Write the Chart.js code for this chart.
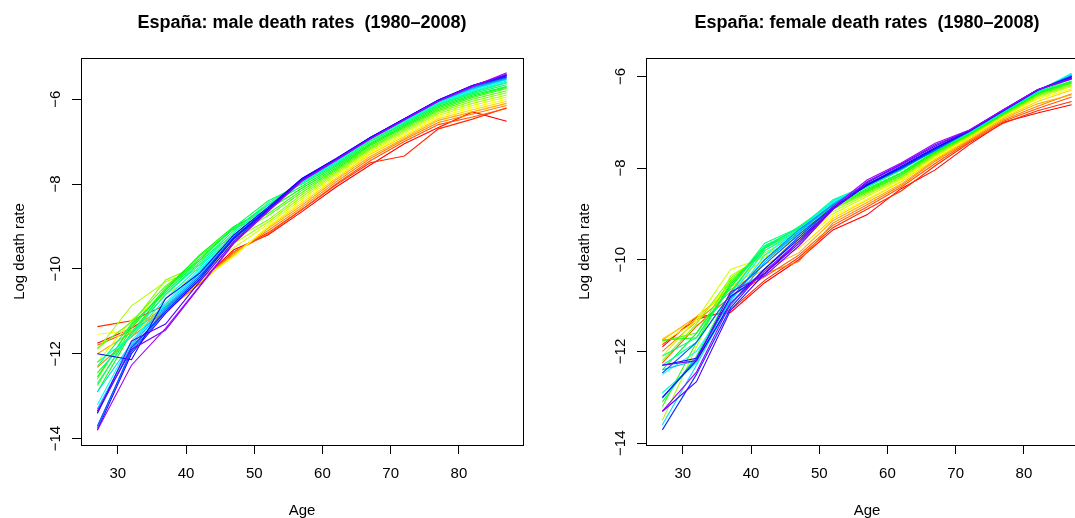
<!DOCTYPE html>
<html>
<head>
<meta charset="utf-8">
<script src="https://cdn.jsdelivr.net/npm/chart.js@4/dist/chart.umd.min.js"></script>
<style>
html, body { margin: 0; padding: 0; background: #fff; overflow: hidden; width: 1075px; height: 518px; }
canvas { position: absolute; top: 0; }
</style>
</head>
<body>
<canvas id="maleChart" width="565" height="518" style="left:0"></canvas>
<canvas id="femaleChart" width="565" height="518" style="left:565px"></canvas>
<script>
// ages (5-year groups, midpoints) and years
const ages = [27, 32, 37, 42, 47, 52, 57, 62, 67, 72, 77, 82, 87];
const years = [1980, 1981, 1982, 1983, 1984, 1985, 1986, 1987, 1988, 1989, 1990, 1991, 1992, 1993,
  1994, 1995, 1996, 1997, 1998, 1999, 2000, 2001, 2002, 2003, 2004, 2005, 2006, 2007, 2008];
const ageTicks = [30, 40, 50, 60, 70, 80];
const rateTicks = [-14, -12, -10, -8, -6];

// log death rates, one row per year (1980 .. 2008), one column per age
const maleRates = [
  [-11.75, -11.40, -10.90, -10.30, -9.55, -9.20, -8.65, -8.07, -7.55, -7.05, -6.67, -6.30, -6.52],
  [-11.36, -11.22, -10.85, -10.30, -9.60, -9.15, -8.60, -8.02, -7.50, -7.34, -6.70, -6.47, -6.20],
  [-11.80, -11.45, -10.95, -10.35, -9.60, -9.18, -8.60, -8.00, -7.45, -7.00, -6.60, -6.42, -6.22],
  [-12.32, -11.60, -11.00, -10.35, -9.62, -9.10, -8.55, -7.95, -7.40, -6.95, -6.55, -6.35, -6.15],
  [-12.00, -11.50, -10.90, -10.30, -9.65, -9.05, -8.50, -7.90, -7.35, -6.92, -6.50, -6.30, -6.10],
  [-12.45, -11.55, -10.95, -10.32, -9.68, -9.02, -8.45, -7.86, -7.30, -6.88, -6.46, -6.25, -6.05],
  [-11.54, -11.45, -10.85, -10.28, -9.71, -9.00, -8.40, -7.82, -7.27, -6.84, -6.42, -6.20, -6.00],
  [-12.20, -11.20, -10.60, -10.10, -9.50, -8.95, -8.35, -7.78, -7.24, -6.80, -6.38, -6.15, -5.95],
  [-11.90, -10.87, -10.30, -10.00, -9.40, -8.90, -8.30, -7.75, -7.20, -6.76, -6.34, -6.10, -5.90],
  [-12.60, -11.30, -10.26, -9.90, -9.30, -8.85, -8.25, -7.72, -7.17, -6.73, -6.30, -6.05, -5.85],
  [-11.87, -11.25, -10.40, -9.80, -9.20, -8.75, -8.20, -7.68, -7.14, -6.70, -6.27, -6.00, -5.80],
  [-12.75, -11.40, -10.45, -9.70, -9.05, -8.70, -8.15, -7.65, -7.10, -6.67, -6.24, -5.96, -5.75],
  [-12.90, -11.50, -10.50, -9.67, -9.00, -8.60, -8.10, -7.62, -7.07, -6.64, -6.20, -5.93, -5.72],
  [-12.55, -11.35, -10.50, -9.75, -9.05, -8.50, -8.05, -7.58, -7.04, -6.61, -6.17, -5.90, -5.70],
  [-12.30, -11.30, -10.55, -9.80, -9.02, -8.40, -8.00, -7.55, -7.00, -6.58, -6.14, -5.87, -5.66],
  [-12.70, -11.50, -10.60, -9.85, -9.10, -8.45, -7.97, -7.52, -6.97, -6.56, -6.12, -5.84, -5.62],
  [-12.45, -11.55, -10.60, -9.90, -9.15, -8.50, -7.95, -7.50, -6.94, -6.54, -6.10, -5.82, -5.60],
  [-12.20, -11.60, -10.70, -9.95, -9.20, -8.55, -7.95, -7.48, -6.92, -6.52, -6.08, -5.80, -5.57],
  [-13.20, -11.70, -10.80, -10.00, -9.25, -8.60, -7.95, -7.46, -6.90, -6.50, -6.07, -5.78, -5.55],
  [-12.90, -11.75, -10.85, -10.05, -9.25, -8.62, -7.93, -7.45, -6.90, -6.50, -6.06, -5.76, -5.53],
  [-13.30, -11.80, -10.90, -10.10, -9.28, -8.60, -7.92, -7.44, -6.92, -6.49, -6.05, -5.74, -5.52],
  [-13.75, -11.90, -10.95, -10.15, -9.30, -8.62, -7.90, -7.43, -6.93, -6.48, -6.04, -5.72, -5.50],
  [-13.70, -11.95, -11.00, -10.20, -9.30, -8.60, -7.88, -7.42, -6.92, -6.47, -6.03, -5.70, -5.48],
  [-13.40, -11.85, -11.00, -10.20, -9.25, -8.58, -7.87, -7.41, -6.91, -6.46, -6.03, -5.69, -5.47],
  [-12.00, -12.14, -10.70, -10.10, -9.20, -8.55, -7.87, -7.40, -6.90, -6.46, -6.02, -5.68, -5.45],
  [-13.80, -12.00, -11.05, -10.25, -9.28, -8.60, -7.88, -7.41, -6.91, -6.47, -6.02, -5.68, -5.44],
  [-13.40, -11.70, -11.30, -10.30, -9.35, -8.62, -7.90, -7.42, -6.92, -6.47, -6.03, -5.68, -5.43],
  [-13.35, -11.90, -11.44, -10.42, -9.40, -8.65, -7.92, -7.43, -6.93, -6.48, -6.04, -5.70, -5.41],
  [-13.80, -12.27, -11.40, -10.40, -9.38, -8.65, -7.93, -7.44, -6.94, -6.49, -6.05, -5.70, -5.38]
];

const femaleRates = [
  [-11.90, -11.25, -11.15, -10.50, -10.00, -9.35, -9.02, -8.45, -8.04, -7.49, -7.00, -6.80, -6.62],
  [-11.85, -11.30, -11.10, -10.45, -9.95, -9.30, -8.90, -8.50, -7.95, -7.45, -7.02, -6.75, -6.55],
  [-12.25, -11.45, -10.80, -10.37, -9.90, -9.25, -8.85, -8.42, -7.90, -7.42, -6.98, -6.70, -6.45],
  [-12.00, -11.35, -10.70, -10.30, -10.04, -9.20, -8.80, -8.38, -7.85, -7.40, -6.95, -6.65, -6.38],
  [-11.75, -11.24, -10.65, -10.20, -9.85, -9.15, -8.75, -8.35, -7.82, -7.38, -6.92, -6.60, -6.40],
  [-11.72, -11.30, -10.60, -10.10, -9.75, -9.10, -8.70, -8.30, -7.80, -7.35, -6.90, -6.55, -6.30],
  [-11.80, -11.35, -10.50, -10.00, -9.60, -9.05, -8.68, -8.28, -7.78, -7.33, -6.88, -6.50, -6.27],
  [-12.10, -11.30, -10.21, -9.95, -9.55, -9.00, -8.62, -8.25, -7.75, -7.31, -6.86, -6.47, -6.22],
  [-13.50, -11.90, -10.35, -9.90, -9.50, -8.95, -8.58, -8.22, -7.72, -7.30, -6.85, -6.44, -6.20],
  [-12.20, -11.40, -10.40, -9.85, -9.45, -8.90, -8.55, -8.20, -7.70, -7.29, -6.84, -6.42, -6.18],
  [-11.77, -11.60, -10.45, -9.80, -9.40, -8.88, -8.52, -8.17, -7.68, -7.28, -6.83, -6.40, -6.15],
  [-13.20, -11.80, -10.50, -9.75, -9.35, -8.85, -8.50, -8.15, -7.66, -7.27, -6.82, -6.38, -6.14],
  [-11.75, -11.70, -10.55, -9.70, -9.32, -8.82, -8.48, -8.12, -7.65, -7.26, -6.80, -6.37, -6.12],
  [-12.40, -11.60, -10.60, -9.72, -9.30, -8.80, -8.45, -8.10, -7.63, -7.25, -6.80, -6.36, -6.10],
  [-13.10, -12.10, -10.70, -9.75, -9.28, -8.75, -8.42, -8.05, -7.60, -7.24, -6.79, -6.35, -6.05],
  [-12.10, -11.70, -10.60, -9.64, -9.30, -8.72, -8.40, -8.03, -7.60, -7.23, -6.78, -6.34, -6.00],
  [-12.30, -11.80, -10.75, -9.70, -9.32, -8.69, -8.38, -8.02, -7.60, -7.22, -6.77, -6.33, -5.95],
  [-12.90, -12.25, -10.80, -9.80, -9.35, -8.72, -8.37, -8.00, -7.60, -7.22, -6.77, -6.33, -5.93],
  [-12.50, -12.00, -10.90, -9.90, -9.35, -8.75, -8.36, -8.00, -7.60, -7.21, -6.76, -6.32, -5.95],
  [-13.60, -12.30, -10.90, -10.00, -9.40, -8.78, -8.35, -8.00, -7.60, -7.21, -6.76, -6.32, -5.97],
  [-12.40, -12.20, -11.00, -10.05, -9.40, -8.80, -8.35, -8.00, -7.61, -7.21, -6.76, -6.31, -5.98],
  [-13.02, -12.15, -10.85, -10.00, -9.35, -8.80, -8.36, -8.00, -7.62, -7.20, -6.75, -6.31, -6.00],
  [-12.47, -11.80, -10.75, -10.10, -9.45, -8.85, -8.38, -8.02, -7.60, -7.20, -6.75, -6.30, -6.00],
  [-13.71, -12.50, -11.05, -10.20, -9.50, -8.85, -8.38, -8.00, -7.58, -7.19, -6.74, -6.30, -6.00],
  [-13.00, -12.20, -10.95, -10.20, -9.55, -8.88, -8.37, -7.98, -7.57, -7.19, -6.74, -6.30, -6.02],
  [-12.30, -12.15, -10.80, -10.30, -9.60, -8.90, -8.36, -7.96, -7.55, -7.19, -6.74, -6.30, -6.03],
  [-13.31, -12.66, -11.10, -10.30, -9.65, -8.90, -8.32, -7.93, -7.52, -7.18, -6.73, -6.29, -6.05],
  [-12.30, -12.20, -10.70, -10.35, -9.70, -8.90, -8.30, -7.91, -7.49, -7.18, -6.73, -6.29, -6.06],
  [-13.30, -12.45, -10.95, -10.25, -9.60, -8.85, -8.26, -7.89, -7.46, -7.17, -6.73, -6.29, -6.04]
];

// R's rainbow(n * 1.25)[1:n] palette
function rainbowColour(i, n) {
  const h = i / (n * 1.25) * 6;
  const k = Math.floor(h), f = h - k;
  const q = 1 - f;
  const rgb = [[1, f, 0], [q, 1, 0], [0, 1, f], [0, q, 1], [f, 0, 1], [1, 0, q]][k % 6];
  return '#' + rgb.map(c => Math.round(c * 255).toString(16).padStart(2, '0')).join('');
}

const fontName = '"Liberation Sans", Arial, Helvetica, sans-serif';

function minus(v) {
  return v < 0 ? '\u2212' + Math.abs(v) : String(v);
}

// box, titles and R-style tick labels
const rLook = {
  id: 'rLook',
  afterDraw(chart, args, opts) {
    const { ctx, chartArea: a, scales: { x, y } } = chart;
    ctx.save();
    ctx.strokeStyle = '#000';
    ctx.lineWidth = 1;
    ctx.strokeRect(Math.round(a.left) + 0.5, Math.round(a.top) + 0.5,
      Math.round(a.right - a.left), Math.round(a.bottom - a.top));

    ctx.fillStyle = '#000';
    ctx.textBaseline = 'alphabetic';
    ctx.textAlign = 'center';
    ctx.font = '15px ' + fontName;
    x.ticks.forEach(t => ctx.fillText(String(t.value), x.getPixelForValue(t.value), 478));
    ctx.fillText(opts.xTitle, (a.left + a.right) / 2, 515);

    y.ticks.forEach(t => {
      ctx.save();
      ctx.translate(a.left - 21.5, y.getPixelForValue(t.value));
      ctx.rotate(-Math.PI / 2);
      ctx.fillText(minus(t.value), 0, 0);
      ctx.restore();
    });
    ctx.save();
    ctx.translate(a.left - 57, (a.top + a.bottom) / 2);
    ctx.rotate(-Math.PI / 2);
    ctx.fillText(opts.yTitle, 0, 0);
    ctx.restore();

    ctx.font = 'bold 18px ' + fontName;
    ctx.fillText(opts.title, (a.left + a.right) / 2, 28);
    ctx.restore();
  }
};

function makeChart(id, rates, title, yMin, yMax) {
  const datasets = rates.map((row, i) => ({
    label: String(years[i]),
    data: ages.map((a, j) => ({ x: a, y: row[j] })),
    borderColor: rainbowColour(i, years.length),
    borderWidth: 1.1,
    pointRadius: 0,
    fill: false,
    tension: 0,
    order: years.length - 1 - i
  }));

  const axisGrid = { display: true, drawOnChartArea: false, drawTicks: true, tickLength: 9, color: '#000', lineWidth: 1 };

  return new Chart(document.getElementById(id), {
    type: 'line',
    data: { datasets },
    plugins: [rLook],
    options: {
      responsive: false,
      animation: false,
      devicePixelRatio: 1,
      events: [],
      layout: { padding: { top: 58, right: 42, left: 0, bottom: 0 } },
      scales: {
        x: {
          type: 'linear',
          min: 24.6,
          max: 89.4,
          afterBuildTicks: s => { s.ticks = ageTicks.map(v => ({ value: v })); },
          afterFit: s => { s.height = 73; },
          ticks: { display: false },
          grid: axisGrid,
          border: { display: false }
        },
        y: {
          type: 'linear',
          min: yMin,
          max: yMax,
          afterBuildTicks: s => { s.ticks = rateTicks.map(v => ({ value: v })); },
          afterFit: s => { s.width = 81; },
          ticks: { display: false },
          grid: axisGrid,
          border: { display: false }
        }
      },
      plugins: {
        legend: { display: false },
        tooltip: { enabled: false },
        title: { display: false },
        rLook: { title: title, xTitle: 'Age', yTitle: 'Log death rate' }
      }
    }
  });
}

makeChart('maleChart', maleRates, 'Espa\u00f1a: male death rates  (1980\u20132008)', -14.15, -5.03);
makeChart('femaleChart', femaleRates, 'Espa\u00f1a: female death rates  (1980\u20132008)', -14.04, -5.60);
</script>
</body>
</html>
